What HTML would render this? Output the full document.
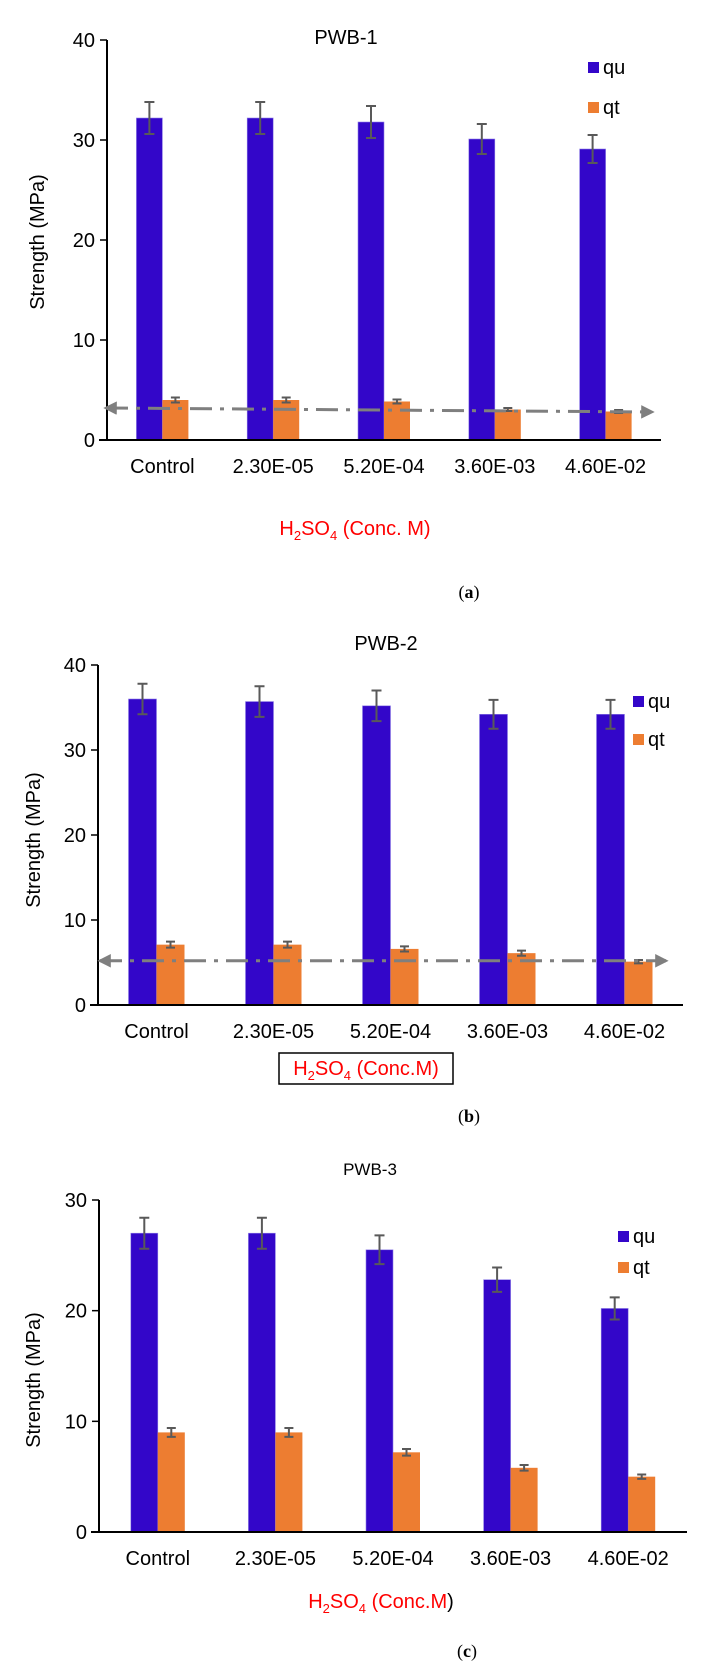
<!DOCTYPE html>
<html><head><meta charset="utf-8">
<style>
html,body{margin:0;padding:0;background:#fff;}
svg{display:block;font-family:"Liberation Sans",Arial,sans-serif;}
</style></head>
<body>
<svg id="fig" width="719" height="1678" viewBox="0 0 719 1678" xmlns="http://www.w3.org/2000/svg">
<defs>
<marker id="arr" viewBox="0 0 10 10" refX="8" refY="5" markerWidth="4.5" markerHeight="4.5" orient="auto-start-reverse"><path d="M0,0 L10,5 L0,10 z" fill="#7f7f7f"/></marker>
</defs>
</svg>
<script>
const categories = ["Control","2.30E-05","5.20E-04","3.60E-03","4.60E-02"];
const quA = [32.2,32.2,31.8,30.1,29.1];
const quErrA = [1.6,1.6,1.6,1.5,1.4];
const qtA = [4.0,4.0,3.85,3.05,2.85];
const qtErrA = [0.25,0.25,0.2,0.15,0.15];
const trendA = [3.2,2.8];
const ticksA = [0,10,20,30,40];

const quB = [36.0,35.7,35.2,34.2,34.2];
const quErrB = [1.8,1.8,1.8,1.7,1.7];
const qtB = [7.1,7.1,6.6,6.1,5.1];
const qtErrB = [0.35,0.35,0.3,0.3,0.2];
const trendB = [5.2,5.2];
const ticksB = [0,10,20,30,40];

const quC = [27.0,27.0,25.5,22.8,20.2];
const quErrC = [1.4,1.4,1.3,1.1,1.0];
const qtC = [9.0,9.0,7.2,5.8,5.0];
const qtErrC = [0.4,0.4,0.3,0.25,0.2];
const ticksC = [0,10,20,30];

const NS="http://www.w3.org/2000/svg";
const svg=document.getElementById('fig');
function mk(tag,attrs,parent){const e=document.createElementNS(NS,tag);for(const k in attrs)e.setAttribute(k,attrs[k]);(parent||svg).appendChild(e);return e;}

function chart(cfg){
  const g=mk('g',{});
  
  
  const y=v=>cfg.y0-(v/cfg.vmax)*(cfg.y0-cfg.ytop);
  const gw=(cfg.x1-cfg.x0)/categories.length;
  const xg=i=>cfg.x0+gw*i;
  const ax=mk('line',{x1:cfg.x0,y1:cfg.ytop,x2:cfg.x0,y2:cfg.y0,stroke:'#000','stroke-width':2},g);
  
  
  cfg.ticks.forEach(t=>{
    mk('line',{x1:cfg.x0-7,y1:y(t),x2:cfg.x0,y2:y(t),stroke:'#000','stroke-width':1.5},g);
    const tl=mk('text',{x:cfg.x0-12,y:y(t)+7,'text-anchor':'end','font-size':20,fill:'#000'},g);
    tl.textContent=t;
    
    
  });
  categories.forEach((c,i)=>{
    const bx=xg(i)+gw/2-cfg.bw;
    const b1=mk('rect',{x:bx,y:y(cfg.qu[i]),width:cfg.bw,height:y(0)-y(cfg.qu[i]),fill:'#3306c9',stroke:'#8f7fe6','stroke-width':0.6},g);
    
    
    const b2=mk('rect',{x:bx+cfg.bw,y:y(cfg.qt[i]),width:cfg.bw,height:y(0)-y(cfg.qt[i]),fill:'#ed7d31'},g);
    
    
    [[bx+cfg.bw/2,cfg.qu[i],cfg.quErr[i],5],[bx+cfg.bw*1.5,cfg.qt[i],cfg.qtErr[i],4.5]].forEach(([cx,v,e,cw])=>{
      const p=mk('path',{d:`M${cx},${y(v+e)}V${y(v-e)}M${cx-cw},${y(v+e)}H${cx+cw}M${cx-cw},${y(v-e)}H${cx+cw}`,stroke:'#595959','stroke-width':2,fill:'none'},g);
      
      
    });
    const lb=mk('text',{x:xg(i)+gw/2,y:cfg.y0+33,'text-anchor':'middle','font-size':20,fill:'#000'},g);
    lb.textContent=c;
    
    
  });
  const xa=mk('line',{x1:cfg.x0-8,y1:cfg.y0,x2:cfg.x1,y2:cfg.y0,stroke:'#000','stroke-width':2},g);
  
  
  if(cfg.trend){
    const tr=mk('line',{x1:cfg.tx0,y1:y(cfg.trend[0]),x2:cfg.tx1,y2:y(cfg.trend[1]),stroke:'#7f7f7f','stroke-width':3,'stroke-dasharray':'22,8,4,8','marker-start':'url(#arr)','marker-end':'url(#arr)'},g);
    
    
  }
  const ti=mk('text',{x:cfg.tx,y:cfg.ty,'text-anchor':'middle','font-size':cfg.tfs,fill:'#000'},g);
  ti.textContent=cfg.title;
  
  
  const yt=mk('text',{x:0,y:0,'text-anchor':'middle','font-size':20,fill:'#000',transform:`translate(${cfg.ytx},${cfg.yty}) rotate(-90)`},g);
  yt.textContent='Strength (MPa)';
  
  
  [['qu','#3306c9',cfg.ly1],['qt','#ed7d31',cfg.ly2]].forEach(([n,col,ly])=>{
    const s=mk('rect',{x:cfg.lx,y:ly-6,width:11,height:11,fill:col},g);
    
    
    const t=mk('text',{x:cfg.lx+15,y:ly+6,'font-size':20,fill:'#000'},g);
    t.textContent=n;
    
    
  });
  const xt=mk('text',{x:cfg.xtx,y:cfg.xty,'text-anchor':'middle','font-size':20,fill:'#ff0000'},g);
  xt.innerHTML='H<tspan font-size="13" dy="5">2</tspan><tspan dy="-5">SO</tspan><tspan font-size="13" dy="5">4</tspan><tspan dy="-5"> '+cfg.xlab+'</tspan>'+(cfg.blackParen?'<tspan fill="#000">)</tspan>':'');
  
  
  if(cfg.box){
    const bb=mk('rect',{x:cfg.xtx-87,y:cfg.xty-22,width:174,height:31,fill:'none',stroke:'#000','stroke-width':1.5},g);
    
    
  }
  const cp=mk('text',{x:cfg.cx,y:cfg.cy,'text-anchor':'middle','font-size':18,fill:'#000','font-family':'"Liberation Serif",serif'},g);
  cp.innerHTML='(<tspan font-weight="bold">'+cfg.cap+'</tspan>)';
  
  
}

chart({name:'chart-pwb-1',x0:107,x1:661,y0:440,ytop:40,vmax:40,bw:26,ticks:ticksA,qu:quA,quErr:quErrA,qt:qtA,qtErr:qtErrA,
  trend:trendA,tx0:106,tx1:652,title:'PWB-1',tx:346,ty:44,tfs:20,ytx:44,yty:242,lx:588,ly1:68,ly2:108,
  xtx:355,xty:535,xlab:'(Conc. M)',box:false,cap:'a',cx:469,cy:598});
chart({name:'chart-pwb-2',x0:98,x1:683,y0:1005,ytop:665,vmax:40,bw:28,ticks:ticksB,qu:quB,quErr:quErrB,qt:qtB,qtErr:qtErrB,
  trend:trendB,tx0:100,tx1:666,title:'PWB-2',tx:386,ty:650,tfs:20,ytx:40,yty:840,lx:633,ly1:702,ly2:740,
  xtx:366,xty:1075,xlab:'(Conc.M)',box:true,cap:'b',cx:469,cy:1122});
chart({name:'chart-pwb-3',x0:99,x1:687,y0:1532,ytop:1200,vmax:30,bw:27,ticks:ticksC,qu:quC,quErr:quErrC,qt:qtC,qtErr:qtErrC,
  trend:null,title:'PWB-3',tx:370,ty:1175,tfs:17,ytx:40,yty:1380,lx:618,ly1:1237,ly2:1268,
  xtx:381,xty:1608,xlab:'(Conc.M',blackParen:true,box:false,cap:'c',cx:467,cy:1657});
</script>
</body></html>
